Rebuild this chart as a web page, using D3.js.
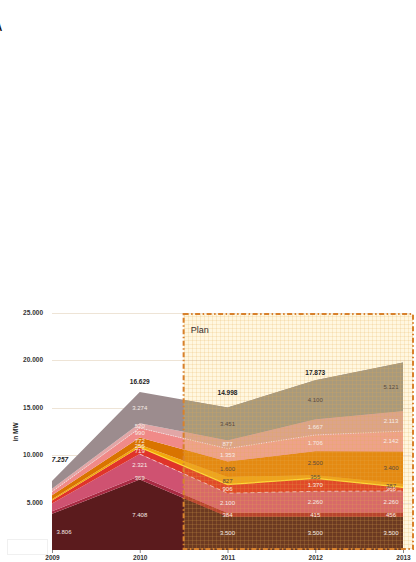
<!DOCTYPE html>
<html><head><meta charset="utf-8">
<script src="https://cdn.jsdelivr.net/npm/d3@7"></script>
<style>
html,body{margin:0;padding:0;background:#fff;}
svg{display:block;font-family:"Liberation Sans",Arial,sans-serif;}
</style>
</head><body>
<svg id="chart" width="416" height="562"></svg>
<script>
// Installed capacity by year, stacked (values in MW)
const years = ["2009", "2010", "2011", "2012", "2013"];
const yTicks = [5000, 10000, 15000, 20000, 25000];
const planYears = ["2011", "2012", "2013"];

// layers, bottom to top
const layerKeys = ["maroon", "crimson", "rose", "red", "yellow", "orange", "salmon", "lightpink", "gray"];
const maroon    = [3806, 7408, 3500, 3500, 3500];
const crimson   = [260, 369, 384, 415, 456];
const rose      = [820, 2321, 2100, 2260, 2260];
const red       = [330, 719, 906, 1370, 366];
const yellow    = [120, 256, 827, 355, 387];
const orange    = [420, 772, 1600, 2500, 3400];
const salmon    = [380, 990, 1353, 1706, 2142];
const lightpink = [300, 520, 877, 1667, 2113];
const gray      = [821, 3274, 3451, 4100, 5121];
const totalLabelYears = ["2009", "2010", "2011", "2012"];

const series = { maroon, crimson, rose, red, yellow, orange, salmon, lightpink, gray };

const baseColor = {
  maroon: "#5b1b1d", crimson: "#a82a42", rose: "#cf5271", red: "#e0342a",
  yellow: "#f2a80c", orange: "#d97400", salmon: "#f08a88", lightpink: "#e2a6a6", gray: "#9c8c8e"
};
const planColor = {
  maroon: "#6c3a22", crimson: "#b8442e", rose: "#d86a68", red: "#e04a28",
  yellow: "#eea41c", orange: "#e48a12", salmon: "#eea28a", lightpink: "#dca48a", gray: "#a99a7c"
};
const darkInPlan = new Set(["gray", "orange", "yellow"]);

const rows = years.map((yr, i) => {
  const r = { year: yr };
  layerKeys.forEach(k => r[k] = series[k][i]);
  return r;
});
const stacked = d3.stack().keys(layerKeys)(rows);

const fmt = d3.formatLocale({ decimal: ",", thousands: ".", grouping: [3], currency: ["", ""] }).format(",");

const svg = d3.select("#chart");
const x = d3.scalePoint().domain(years).range([52, 403]);
const y = d3.scaleLinear().domain([0, 25000]).range([550, 312.5]);

const planX0 = (x("2010") + x("2011")) / 2;
const planX1 = x("2013") + 10;
const planY0 = y(25000) + 1.5, planY1 = 549;

const defs = svg.append("defs");
defs.append("clipPath").attr("id", "planClip")
  .append("rect").attr("x", planX0).attr("y", 0).attr("width", 416 - planX0).attr("height", 562);
const pat = defs.append("pattern").attr("id", "planGrid")
  .attr("patternUnits", "userSpaceOnUse").attr("width", 4).attr("height", 4);
pat.append("path").attr("d", "M0,0.5H4M0.5,0V4")
  .attr("stroke", "rgba(226,170,80,0.18)").attr("stroke-width", 1).attr("fill", "none");

// stray mark at the top-left corner
svg.append("text").attr("x", -5).attr("y", 31).attr("font-size", 10).attr("font-weight", "bold")
  .attr("fill", "#111").text("A");

// plan background
svg.append("rect").attr("x", planX0).attr("y", planY0).attr("width", planX1 - planX0)
  .attr("height", planY1 - planY0).attr("fill", "#fff7e0");

// gridlines
svg.append("g").selectAll("line").data(yTicks).join("line")
  .attr("x1", 52).attr("x2", planX1 - 2)
  .attr("y1", d => Math.round(y(d)) + 0.5).attr("y2", d => Math.round(y(d)) + 0.5)
  .attr("stroke", "#eee4d6").attr("stroke-width", 1);

const area = d3.area()
  .x(d => x(d.data.year))
  .y0(d => y(d[0]))
  .y1(d => y(d[1]));

svg.append("g").selectAll("path").data(stacked).join("path")
  .attr("d", area).attr("fill", d => baseColor[d.key]);

svg.append("g").attr("clip-path", "url(#planClip)")
  .selectAll("path").data(stacked).join("path")
  .attr("d", area).attr("fill", d => planColor[d.key]);

// boundary strokes
const line = d3.line().x(d => x(d.data.year)).y(d => y(d[1]));
const lp = stacked.find(s => s.key === "salmon");
svg.append("path").attr("d", line(lp)).attr("fill", "none")
  .attr("stroke", "rgba(255,255,255,0.8)").attr("stroke-width", 0.8).attr("stroke-dasharray", "1,1.5");
const rs = stacked.find(s => s.key === "rose");
svg.append("path").attr("d", line(rs.slice(1))).attr("fill", "none")
  .attr("stroke", "rgba(255,255,255,0.7)").attr("stroke-width", 0.8).attr("stroke-dasharray", "4,3");
const ye = stacked.find(s => s.key === "red");
svg.append("path").attr("d", line(ye.slice(1))).attr("fill", "none")
  .attr("stroke", "rgba(255,225,60,0.9)").attr("stroke-width", 1.2);

// plan texture
svg.append("rect").attr("x", planX0).attr("y", planY0).attr("width", planX1 - planX0)
  .attr("height", planY1 - planY0).attr("fill", "url(#planGrid)");

// plan frame
svg.append("rect").attr("x", planX0).attr("y", planY0).attr("width", planX1 - planX0)
  .attr("height", planY1 - planY0).attr("fill", "none")
  .attr("stroke", "#d8812c").attr("stroke-width", 2).attr("stroke-dasharray", "5,2.5,1.5,2.5");
svg.append("text").attr("x", planX0 + 7).attr("y", 333).attr("font-size", 9)
  .attr("fill", "#3a3030").text("Plan");

// value labels inside layers
const labelG = svg.append("g").attr("font-size", 6).attr("text-anchor", "middle");
stacked.forEach(s => {
  s.forEach((d, i) => {
    const v = d[1] - d[0];
    if (i === 0 && v < 2000) return;
    const yr = d.data.year;
    const inPlan = planYears.includes(yr);
    const dx = i === 0 ? 12 : (i === years.length - 1 ? -12 : 0);
    labelG.append("text")
      .attr("x", x(yr) + dx).attr("y", y((d[0] + d[1]) / 2) + 2)
      .attr("fill", inPlan && darkInPlan.has(s.key) ? "#5a4a3e" : "#f6ece6")
      .text(fmt(v));
  });
});

// stack totals
const topLayer = stacked[stacked.length - 1];
const totalOffset = { "2009": 19, "2010": 8, "2011": 13, "2012": 5 };
svg.append("g").attr("font-size", 6.5).attr("font-weight", "bold").attr("text-anchor", "middle")
  .selectAll("text").data(topLayer.filter(d => totalLabelYears.includes(d.data.year))).join("text")
  .attr("x", d => x(d.data.year) + (d.data.year === "2009" ? 8 : 0))
  .attr("y", d => y(d[1]) - totalOffset[d.data.year])
  .attr("font-style", d => d.data.year === "2009" ? "italic" : "normal")
  .attr("fill", "#222")
  .text(d => fmt(d[1]));

// y axis labels
svg.append("g").attr("font-size", 6.5).attr("font-weight", "bold").attr("text-anchor", "end")
  .selectAll("text").data(yTicks).join("text")
  .attr("x", 43).attr("y", d => y(d) + 2.3).attr("fill", "#333").text(d => fmt(d));
svg.append("text").attr("transform", "translate(18,432) rotate(-90)")
  .attr("text-anchor", "middle").attr("font-size", 6.5).attr("font-weight", "bold")
  .attr("fill", "#222").text("in MW");

// x axis
const xAxis = svg.append("g").attr("transform", "translate(0,550)")
  .call(d3.axisBottom(x).tickSize(3).tickPadding(2));
xAxis.select(".domain").remove();
xAxis.selectAll("line").attr("stroke", "#888");
xAxis.selectAll("text").attr("font-size", 6.5).attr("font-weight", "bold").attr("fill", "#333")
  .attr("font-family", "Liberation Sans, Arial, sans-serif");

// faint box at lower left
svg.append("rect").attr("x", 7.5).attr("y", 539.5).attr("width", 40).attr("height", 15)
  .attr("fill", "none").attr("stroke", "#f0f0f0").attr("stroke-width", 1);
</script>
</body></html>
